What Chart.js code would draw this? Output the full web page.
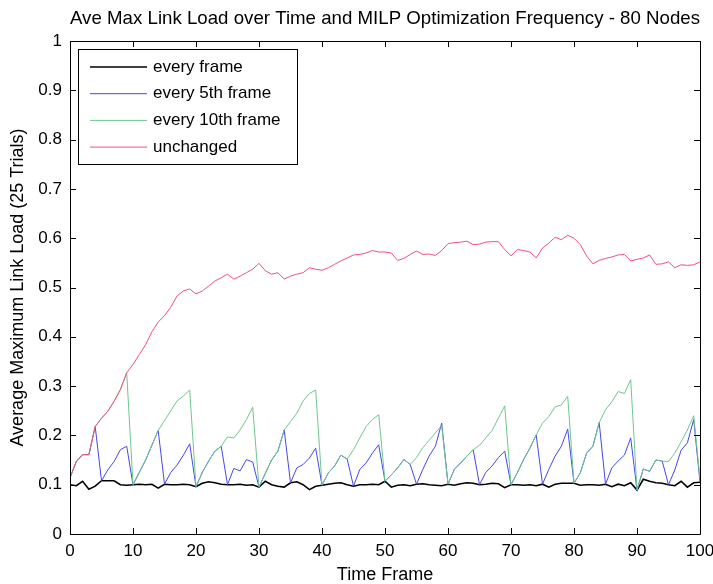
<!DOCTYPE html>
<html>
<head>
<meta charset="utf-8">
<script src="https://cdn.jsdelivr.net/npm/chart.js@4.4.0/dist/chart.umd.min.js"></script>
<style>
  body { margin: 0; background: #fff; }
</style>
</head>
<body>
<canvas id="myChart" width="713" height="584"></canvas>
<script>
// time frames 0..100
var frames = Array.from({ length: 101 }, function (_, i) { return i; });

var everyFrame = [
  0.100, 0.098, 0.107, 0.091, 0.097, 0.108, 0.108, 0.108, 0.100, 0.099,
  0.100, 0.101, 0.100, 0.101, 0.093, 0.101, 0.100, 0.100, 0.101, 0.100,
  0.096, 0.103, 0.106, 0.104, 0.101, 0.100, 0.100, 0.101, 0.099, 0.100,
  0.095, 0.107, 0.100, 0.097, 0.095, 0.104, 0.106, 0.100, 0.090, 0.097,
  0.099, 0.101, 0.103, 0.104, 0.100, 0.097, 0.100, 0.100, 0.101, 0.100,
  0.107, 0.095, 0.099, 0.100, 0.098, 0.101, 0.102, 0.100, 0.099, 0.098,
  0.101, 0.099, 0.102, 0.104, 0.103, 0.100, 0.101, 0.103, 0.102, 0.094,
  0.100, 0.100, 0.099, 0.100, 0.098, 0.101, 0.095, 0.101, 0.103, 0.103,
  0.103, 0.099, 0.100, 0.100, 0.099, 0.101, 0.096, 0.101, 0.098, 0.104,
  0.089, 0.111, 0.107, 0.104, 0.103, 0.100, 0.098, 0.107, 0.095, 0.104,
  0.105
];

var every5th = [
  0.114, 0.147, 0.161, 0.161, 0.218, 0.108, 0.130, 0.147, 0.171, 0.178,
  0.100, 0.125, 0.150, 0.180, 0.210, 0.101, 0.125, 0.140, 0.160, 0.183,
  0.096, 0.125, 0.148, 0.168, 0.178, 0.100, 0.133, 0.128, 0.151, 0.146,
  0.095, 0.123, 0.150, 0.168, 0.211, 0.104, 0.134, 0.141, 0.154, 0.174,
  0.099, 0.124, 0.138, 0.160, 0.152, 0.097, 0.131, 0.144, 0.164, 0.181,
  0.107, 0.120, 0.134, 0.151, 0.141, 0.101, 0.131, 0.158, 0.178, 0.225,
  0.101, 0.131, 0.144, 0.158, 0.171, 0.100, 0.125, 0.138, 0.155, 0.168,
  0.100, 0.124, 0.151, 0.174, 0.201, 0.101, 0.131, 0.158, 0.178, 0.213,
  0.103, 0.124, 0.164, 0.178, 0.226, 0.101, 0.134, 0.148, 0.160, 0.195,
  0.089, 0.132, 0.127, 0.150, 0.148, 0.100, 0.130, 0.170, 0.185, 0.232,
  0.105
];

var every10th = [
  0.114, 0.147, 0.161, 0.161, 0.218, 0.235, 0.249, 0.269, 0.293, 0.327,
  0.100, 0.125, 0.150, 0.180, 0.210, 0.230, 0.250, 0.270, 0.280, 0.292,
  0.096, 0.125, 0.148, 0.168, 0.178, 0.197, 0.195, 0.211, 0.232, 0.257,
  0.095, 0.123, 0.150, 0.168, 0.211, 0.228, 0.245, 0.270, 0.285, 0.292,
  0.099, 0.124, 0.138, 0.160, 0.152, 0.171, 0.195, 0.218, 0.232, 0.242,
  0.107, 0.120, 0.134, 0.151, 0.141, 0.155, 0.175, 0.190, 0.205, 0.220,
  0.101, 0.131, 0.144, 0.158, 0.171, 0.180, 0.195, 0.210, 0.235, 0.260,
  0.100, 0.124, 0.151, 0.174, 0.201, 0.225, 0.238, 0.258, 0.262, 0.279,
  0.103, 0.124, 0.164, 0.178, 0.226, 0.252, 0.268, 0.289, 0.285, 0.313,
  0.089, 0.132, 0.127, 0.150, 0.148, 0.147, 0.164, 0.187, 0.211, 0.240,
  0.112
];

var unchanged = [
  0.114, 0.147, 0.161, 0.161, 0.218, 0.235, 0.249, 0.269, 0.293, 0.327,
  0.344, 0.364, 0.384, 0.410, 0.430, 0.443, 0.460, 0.483, 0.493, 0.497,
  0.487, 0.493, 0.503, 0.513, 0.520, 0.527, 0.517, 0.523, 0.530, 0.537,
  0.549, 0.534, 0.527, 0.530, 0.517, 0.523, 0.527, 0.530, 0.540, 0.537,
  0.535, 0.540, 0.547, 0.554, 0.560, 0.566, 0.567, 0.570, 0.575, 0.572,
  0.572, 0.570, 0.555, 0.559, 0.567, 0.574, 0.567, 0.568, 0.565, 0.575,
  0.589, 0.591, 0.592, 0.594, 0.587, 0.588, 0.592, 0.593, 0.593, 0.577,
  0.564, 0.577, 0.575, 0.572, 0.560, 0.580, 0.590, 0.602, 0.597, 0.606,
  0.600, 0.587, 0.564, 0.548, 0.555, 0.559, 0.562, 0.566, 0.567, 0.554,
  0.557, 0.560, 0.566, 0.547, 0.548, 0.552, 0.540, 0.546, 0.545, 0.546,
  0.552
];

var seriesNames = ['every frame', 'every 5th frame', 'every 10th frame', 'unchanged'];
var seriesColors = ['#000000', '#4646f0', '#6cc88e', '#f2507e'];

var FONT = 'Liberation Sans, Arial, Helvetica, sans-serif';

// MATLAB-style box with inward ticks on all sides
var boxPlugin = {
  id: 'box',
  afterDatasetsDraw: function (chart) {
    var c = chart.ctx, a = chart.chartArea;
    var xs = chart.scales.x, ys = chart.scales.y, len = 6;
    c.save();
    c.strokeStyle = '#000';
    c.lineWidth = 1;
    c.beginPath();
    c.rect(a.left + 0.5, a.top + 0.5, a.right - a.left, a.bottom - a.top);
    xs.ticks.forEach(function (t) {
      var px = Math.round(xs.getPixelForValue(t.value)) + 0.5;
      c.moveTo(px, a.bottom); c.lineTo(px, a.bottom - len);
      c.moveTo(px, a.top); c.lineTo(px, a.top + len);
    });
    ys.ticks.forEach(function (t) {
      var py = Math.round(ys.getPixelForValue(t.value)) + 0.5;
      c.moveTo(a.left, py); c.lineTo(a.left + len, py);
      c.moveTo(a.right, py); c.lineTo(a.right - len, py);
    });
    c.stroke();
    c.restore();
  }
};

// legend box inside the axes, top-left
var legendBox = {
  id: 'legendBox',
  afterDraw: function (chart) {
    var c = chart.ctx, a = chart.chartArea;
    var x0 = a.left + 8, y0 = a.top + 8, w = 219, h = 115, row = 26.7;
    c.save();
    c.fillStyle = '#fff';
    c.fillRect(x0, y0, w, h);
    c.strokeStyle = '#000';
    c.lineWidth = 1;
    c.strokeRect(x0 + 0.5, y0 + 0.5, w, h);
    c.font = '17px ' + FONT;
    c.textBaseline = 'middle';
    chart.data.datasets.forEach(function (ds, i) {
      var y = y0 + 18 + i * row;
      c.strokeStyle = ds.borderColor;
      c.lineWidth = i === 0 ? 1.6 : 1;
      c.beginPath();
      c.moveTo(x0 + 12, y); c.lineTo(x0 + 69, y);
      c.stroke();
      c.fillStyle = '#000';
      c.fillText(ds.label, x0 + 75, y);
    });
    c.restore();
  }
};

var datasets = [everyFrame, every5th, every10th, unchanged].map(function (vals, i) {
  return {
    label: seriesNames[i],
    data: vals,
    borderColor: seriesColors[i],
    backgroundColor: seriesColors[i],
    borderWidth: i === 0 ? 1.6 : 1,
    pointRadius: 0,
    tension: 0,
    fill: false,
    order: 3 - i
  };
});

var ctx = document.getElementById('myChart').getContext('2d');
var myChart = new Chart(ctx, {
  type: 'line',
  data: { labels: frames, datasets: datasets },
  options: {
    responsive: false,
    animation: false,
    events: [],
    layout: { padding: { left: 0, right: 13, top: 0, bottom: 0 } },
    plugins: {
      legend: { display: false },
      tooltip: { enabled: false },
      title: {
        display: true,
        fullSize: false,
        text: 'Ave Max Link Load over Time and MILP Optimization Frequency - 80 Nodes',
        color: '#000',
        font: { family: FONT, size: 19, weight: 'normal', lineHeight: 1.2 },
        padding: { top: 7, bottom: 11.2 }
      }
    },
    scales: {
      x: {
        type: 'linear',
        min: 0,
        max: 100,
        grid: { display: false, drawTicks: false },
        border: { display: false },
        ticks: { stepSize: 10, padding: 7, color: '#000', font: { family: FONT, size: 17 } },
        title: {
          display: true,
          text: 'Time Frame',
          color: '#000',
          font: { family: FONT, size: 18, lineHeight: 1 },
          padding: { top: 0, bottom: 0 }
        },
        afterFit: function (s) {
          s.height = 50;
          s.paddingLeft = 0;
          s.paddingRight = 0;
        }
      },
      y: {
        min: 0,
        max: 1,
        grid: { display: false, drawTicks: false },
        border: { display: false },
        ticks: {
          stepSize: 0.1,
          padding: 8,
          color: '#000',
          font: { family: FONT, size: 17 },
          callback: function (v) { return String(+v.toFixed(1)); }
        },
        title: {
          display: true,
          text: 'Average Maximum Link Load (25 Trials)',
          color: '#000',
          font: { family: FONT, size: 18, lineHeight: 1 },
          padding: { top: 9, bottom: 0 }
        },
        afterFit: function (s) {
          s.width = 70;
          s.paddingTop = 0;
          s.paddingBottom = 0;
        }
      }
    }
  },
  plugins: [boxPlugin, legendBox]
});
</script>
</body>
</html>
